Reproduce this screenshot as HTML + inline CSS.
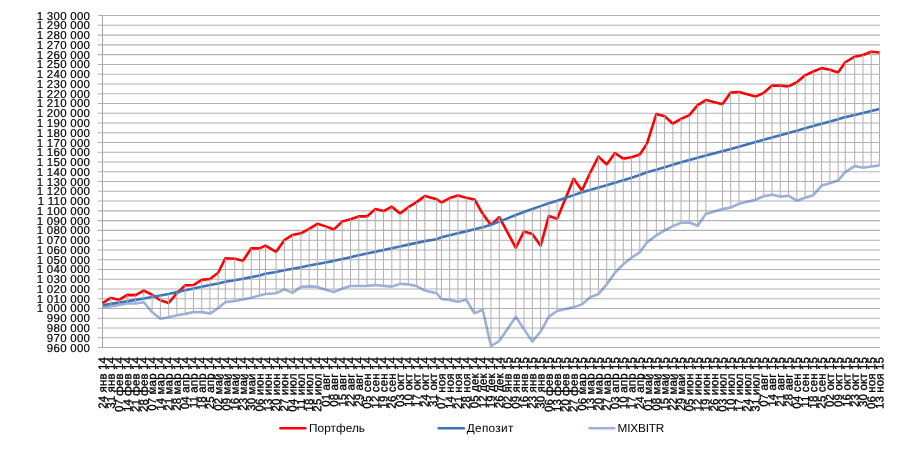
<!DOCTYPE html>
<html><head><meta charset="utf-8"><title>chart</title>
<style>
html,body{margin:0;padding:0;background:#fff;}
body{width:904px;height:451px;overflow:hidden;font-family:"Liberation Sans",sans-serif;}
svg{display:block;font-family:"Liberation Sans",sans-serif;}
text{text-rendering:geometricPrecision;}
.t{filter:url(#gs);}
</style></head><body>
<svg width="904" height="451" viewBox="0 0 904 451">
<defs><filter id="gs" x="0" y="0" width="904" height="451" filterUnits="userSpaceOnUse" color-interpolation-filters="sRGB"><feOffset dx="0" dy="0"/></filter></defs>
<rect width="904" height="451" fill="#fff"/>
<path d="M98.00,15.58H880.00M98.00,25.34H880.00M98.00,35.11H880.00M98.00,44.87H880.00M98.00,54.64H880.00M98.00,64.40H880.00M98.00,74.16H880.00M98.00,83.93H880.00M98.00,93.69H880.00M98.00,103.45H880.00M98.00,113.22H880.00M98.00,122.98H880.00M98.00,132.75H880.00M98.00,142.51H880.00M98.00,152.27H880.00M98.00,162.04H880.00M98.00,171.80H880.00M98.00,181.57H880.00M98.00,191.33H880.00M98.00,201.09H880.00M98.00,210.86H880.00M98.00,220.62H880.00M98.00,230.38H880.00M98.00,240.15H880.00M98.00,249.91H880.00M98.00,259.68H880.00M98.00,269.44H880.00M98.00,279.20H880.00M98.00,288.97H880.00M98.00,298.73H880.00M98.00,308.49H880.00M98.00,318.26H880.00M98.00,328.02H880.00M98.00,337.79H880.00M98.00,347.55H880.00" stroke="#B2B2B2" stroke-width="1.05" fill="none"/>
<path d="M102.5,15.08V348.05" stroke="#A6A6A6" stroke-width="1" fill="none"/>
<path d="M102.50,303.03 L110.77,297.95 L119.03,299.80 L127.30,294.92 L135.56,295.12 L143.83,290.63 L152.10,294.73 L160.36,300.29 L168.63,302.93 L176.89,293.26 L185.16,285.35 L193.43,285.06 L201.69,279.89 L209.96,279.01 L218.22,272.76 L225.31,258.21 L234.76,258.80 L243.02,260.65 L251.29,248.35 L259.55,248.35 L265.46,245.62 L276.09,251.86 L284.35,240.15 L292.62,234.97 L300.88,233.31 L309.15,228.82 L317.41,223.84 L325.68,226.38 L333.95,229.41 L342.21,221.60 L350.48,219.16 L358.74,216.42 L367.01,216.42 L375.28,209.10 L383.54,211.05 L391.81,206.66 L400.07,213.59 L408.34,207.20 L416.61,202.17 L424.87,196.11 L436.68,199.24 L441.40,202.56 L449.67,198.07 L457.94,195.53 L466.20,197.68 L474.47,199.43 L482.73,213.88 L491.00,224.92 L499.27,217.20 L515.80,247.76 L524.06,231.46 L532.33,234.09 L540.60,245.81 L548.86,215.93 L557.13,218.77 L573.66,178.83 L581.93,190.45 L590.19,172.78 L598.46,156.67 L606.72,164.48 L614.99,153.05 L623.26,158.62 L631.52,157.16 L639.79,154.42 L646.87,143.88 L656.32,114.10 L664.59,116.15 L672.85,123.67 L681.12,118.88 L689.38,115.17 L697.65,105.02 L705.91,100.04 L722.45,104.24 L730.71,92.62 L738.98,92.03 L755.51,96.62 L763.78,92.81 L772.04,85.59 L780.31,85.59 L788.57,86.37 L796.84,82.27 L805.11,75.33 L813.37,71.53 L821.64,68.11 L829.90,69.67 L838.17,72.50 L845.26,62.25 L854.70,56.69 L862.97,55.03 L871.23,51.71 L879.50,52.58" stroke="#FF0000" stroke-width="2.6" fill="none" stroke-linejoin="round" stroke-linecap="butt"/>
<path d="M102.50,305.18 L110.77,303.85 L119.03,302.52 L127.30,301.19 L135.56,299.86 L143.83,298.54 L152.10,297.01 L160.36,295.48 L168.63,293.95 L176.89,292.12 L185.16,290.30 L193.43,288.48 L201.69,286.79 L209.96,285.09 L218.22,283.40 L225.31,281.84 L234.76,280.28 L243.02,278.72 L251.29,277.15 L259.55,275.59 L265.46,273.83 L276.09,272.08 L284.35,270.32 L292.62,268.74 L300.88,267.16 L309.15,265.58 L317.41,264.00 L325.68,262.43 L333.95,260.85 L342.21,259.01 L350.48,257.18 L358.74,255.34 L367.01,253.50 L375.28,251.67 L383.54,249.91 L391.81,248.15 L400.07,246.40 L408.34,244.64 L416.61,242.88 L424.87,241.12 L436.68,239.17 L441.40,237.22 L449.67,235.27 L457.94,233.31 L466.20,231.36 L474.47,229.26 L482.73,227.16 L491.00,224.72 L499.27,221.60 L515.80,214.96 L524.06,211.93 L532.33,208.90 L540.60,206.12 L548.86,203.34 L557.13,200.80 L573.66,195.14 L581.93,192.31 L590.19,189.91 L598.46,187.52 L606.72,185.13 L614.99,182.74 L623.26,180.20 L631.52,177.66 L639.79,174.93 L646.87,172.19 L656.32,169.70 L664.59,167.21 L672.85,164.72 L681.12,162.23 L689.38,160.03 L697.65,157.82 L705.91,155.61 L722.45,151.20 L730.71,148.91 L738.98,146.63 L755.51,142.06 L763.78,139.78 L772.04,137.49 L780.31,135.21 L788.57,132.92 L796.84,130.64 L805.11,128.35 L813.37,126.06 L821.64,123.76 L829.90,121.47 L838.17,119.17 L845.26,117.12 L854.70,115.07 L862.97,113.02 L871.23,110.97 L879.50,108.92" stroke="#3E73B7" stroke-width="2.6" fill="none" stroke-linejoin="round" stroke-linecap="butt"/>
<path d="M102.50,307.23 L110.77,306.35 L119.03,305.08 L127.30,303.52 L135.56,303.52 L143.83,302.25 L152.10,312.11 L160.36,318.84 L168.63,317.18 L176.89,315.23 L185.16,313.86 L193.43,312.11 L201.69,312.11 L209.96,313.57 L218.22,308.10 L225.31,302.15 L234.76,301.07 L243.02,299.41 L251.29,297.75 L259.55,295.51 L265.46,294.04 L276.09,293.26 L284.35,289.36 L292.62,292.68 L300.88,286.92 L309.15,286.33 L317.41,286.92 L325.68,289.65 L333.95,292.09 L342.21,288.58 L350.48,286.04 L358.74,286.04 L367.01,285.84 L375.28,285.06 L383.54,285.84 L391.81,286.62 L400.07,283.89 L408.34,284.38 L416.61,286.04 L424.87,290.53 L436.68,293.26 L441.40,299.02 L449.67,299.95 L457.94,301.66 L466.20,299.71 L474.47,313.28 L482.73,309.76 L491.00,345.99 L499.27,341.01 L515.80,316.79 L524.06,329.39 L532.33,341.59 L540.60,331.54 L548.86,316.60 L557.13,311.03 L573.66,307.13 L581.93,304.39 L590.19,297.17 L598.46,294.04 L606.72,284.38 L614.99,272.76 L623.26,264.36 L631.52,257.72 L639.79,252.35 L646.87,242.49 L656.32,235.36 L664.59,230.48 L672.85,226.09 L681.12,222.77 L689.38,222.57 L697.65,225.70 L705.91,213.88 L722.45,209.10 L730.71,207.54 L738.98,203.83 L755.51,199.73 L763.78,196.11 L772.04,194.84 L780.31,196.60 L788.57,195.82 L796.84,200.70 L805.11,197.68 L813.37,195.14 L821.64,185.57 L829.90,183.32 L838.17,180.30 L845.26,172.09 L854.70,166.04 L862.97,167.80 L871.23,166.43 L879.50,165.36" stroke="#476FB5" stroke-opacity="0.54" stroke-width="2.6" fill="none" stroke-linejoin="round" stroke-linecap="butt"/>
<path d="M102.50,303.03V307.23M110.77,297.95V306.35M119.03,299.80V305.08M127.30,294.92V303.52M135.56,295.12V303.52M143.83,290.63V302.25M152.10,294.73V312.11M160.36,295.48V318.84M168.63,293.95V317.18M176.89,292.12V315.23M185.16,285.35V313.86M193.43,285.06V312.11M201.69,279.89V312.11M209.96,279.01V313.57M218.22,272.76V308.10M225.31,258.21V302.15M234.76,258.80V301.07M243.02,260.65V299.41M251.29,248.35V297.75M259.55,248.35V295.51M265.46,245.62V294.04M276.09,251.86V293.26M284.35,240.15V289.36M292.62,234.97V292.68M300.88,233.31V286.92M309.15,228.82V286.33M317.41,223.84V286.92M325.68,226.38V289.65M333.95,229.41V292.09M342.21,221.60V288.58M350.48,219.16V286.04M358.74,216.42V286.04M367.01,216.42V285.84M375.28,209.10V285.06M383.54,211.05V285.84M391.81,206.66V286.62M400.07,213.59V283.89M408.34,207.20V284.38M416.61,202.17V286.04M424.87,196.11V290.53M436.68,199.24V293.26M441.40,202.56V299.02M449.67,198.07V299.95M457.94,195.53V301.66M466.20,197.68V299.71M474.47,199.43V313.28M482.73,213.88V309.76M491.00,224.72V345.99M499.27,217.20V341.01M515.80,214.96V316.79M524.06,211.93V329.39M532.33,208.90V341.59M540.60,206.12V331.54M548.86,203.34V316.60M557.13,200.80V311.03M573.66,178.83V307.13M581.93,190.45V304.39M590.19,172.78V297.17M598.46,156.67V294.04M606.72,164.48V284.38M614.99,153.05V272.76M623.26,158.62V264.36M631.52,157.16V257.72M639.79,154.42V252.35M646.87,143.88V242.49M656.32,114.10V235.36M664.59,116.15V230.48M672.85,123.67V226.09M681.12,118.88V222.77M689.38,115.17V222.57M697.65,105.02V225.70M705.91,100.04V213.88M722.45,104.24V209.10M730.71,92.62V207.54M738.98,92.03V203.83M755.51,96.62V199.73M763.78,92.81V196.11M772.04,85.59V194.84M780.31,85.59V196.60M788.57,86.37V195.82M796.84,82.27V200.70M805.11,75.33V197.68M813.37,71.53V195.14M821.64,68.11V185.57M829.90,69.67V183.32M838.17,72.50V180.30M845.26,62.25V172.09M854.70,56.69V166.04M862.97,55.03V167.80M871.23,51.71V166.43M879.50,52.58V165.36" stroke="#B0B0B0" stroke-width="1.0" fill="none"/>
<g class="t" font-size="11.5" letter-spacing="0.25" fill="#000" stroke="#000" stroke-width="0.18"><text x="90.2" y="19.58" text-anchor="end">1 300 000</text><text x="90.2" y="29.34" text-anchor="end">1 290 000</text><text x="90.2" y="39.11" text-anchor="end">1 280 000</text><text x="90.2" y="48.87" text-anchor="end">1 270 000</text><text x="90.2" y="58.64" text-anchor="end">1 260 000</text><text x="90.2" y="68.40" text-anchor="end">1 250 000</text><text x="90.2" y="78.16" text-anchor="end">1 240 000</text><text x="90.2" y="87.93" text-anchor="end">1 230 000</text><text x="90.2" y="97.69" text-anchor="end">1 220 000</text><text x="90.2" y="107.45" text-anchor="end">1 210 000</text><text x="90.2" y="117.22" text-anchor="end">1 200 000</text><text x="90.2" y="126.98" text-anchor="end">1 190 000</text><text x="90.2" y="136.75" text-anchor="end">1 180 000</text><text x="90.2" y="146.51" text-anchor="end">1 170 000</text><text x="90.2" y="156.27" text-anchor="end">1 160 000</text><text x="90.2" y="166.04" text-anchor="end">1 150 000</text><text x="90.2" y="175.80" text-anchor="end">1 140 000</text><text x="90.2" y="185.57" text-anchor="end">1 130 000</text><text x="90.2" y="195.33" text-anchor="end">1 120 000</text><text x="90.2" y="205.09" text-anchor="end">1 110 000</text><text x="90.2" y="214.86" text-anchor="end">1 100 000</text><text x="90.2" y="224.62" text-anchor="end">1 090 000</text><text x="90.2" y="234.38" text-anchor="end">1 080 000</text><text x="90.2" y="244.15" text-anchor="end">1 070 000</text><text x="90.2" y="253.91" text-anchor="end">1 060 000</text><text x="90.2" y="263.68" text-anchor="end">1 050 000</text><text x="90.2" y="273.44" text-anchor="end">1 040 000</text><text x="90.2" y="283.20" text-anchor="end">1 030 000</text><text x="90.2" y="292.97" text-anchor="end">1 020 000</text><text x="90.2" y="302.73" text-anchor="end">1 010 000</text><text x="90.2" y="312.49" text-anchor="end">1 000 000</text><text x="90.2" y="322.26" text-anchor="end">990 000</text><text x="90.2" y="332.02" text-anchor="end">980 000</text><text x="90.2" y="341.79" text-anchor="end">970 000</text><text x="90.2" y="351.55" text-anchor="end">960 000</text></g>
<g class="t" font-size="11.5" letter-spacing="0.14" fill="#000" stroke="#000" stroke-width="0.32"><text transform="translate(106.50,356.9) rotate(-89.95)" text-anchor="end">24 янв 14</text><text transform="translate(114.77,356.9) rotate(-89.95)" text-anchor="end">31 янв 14</text><text transform="translate(123.03,356.9) rotate(-89.95)" text-anchor="end">07 фев 14</text><text transform="translate(131.30,356.9) rotate(-89.95)" text-anchor="end">14 фев 14</text><text transform="translate(139.56,356.9) rotate(-89.95)" text-anchor="end">21 фев 14</text><text transform="translate(147.83,356.9) rotate(-89.95)" text-anchor="end">28 фев 14</text><text transform="translate(156.10,356.9) rotate(-89.95)" text-anchor="end">07 мар 14</text><text transform="translate(164.36,356.9) rotate(-89.95)" text-anchor="end">14 мар 14</text><text transform="translate(172.63,356.9) rotate(-89.95)" text-anchor="end">21 мар 14</text><text transform="translate(180.89,356.9) rotate(-89.95)" text-anchor="end">28 мар 14</text><text transform="translate(189.16,356.9) rotate(-89.95)" text-anchor="end">04 апр 14</text><text transform="translate(197.43,356.9) rotate(-89.95)" text-anchor="end">11 апр 14</text><text transform="translate(205.69,356.9) rotate(-89.95)" text-anchor="end">18 апр 14</text><text transform="translate(213.96,356.9) rotate(-89.95)" text-anchor="end">25 апр 14</text><text transform="translate(222.22,356.9) rotate(-89.95)" text-anchor="end">02 май 14</text><text transform="translate(230.49,356.9) rotate(-89.95)" text-anchor="end">09 май 14</text><text transform="translate(238.76,356.9) rotate(-89.95)" text-anchor="end">16 май 14</text><text transform="translate(247.02,356.9) rotate(-89.95)" text-anchor="end">23 май 14</text><text transform="translate(255.29,356.9) rotate(-89.95)" text-anchor="end">30 май 14</text><text transform="translate(263.55,356.9) rotate(-89.95)" text-anchor="end">06 июн 14</text><text transform="translate(271.82,356.9) rotate(-89.95)" text-anchor="end">13 июн 14</text><text transform="translate(280.09,356.9) rotate(-89.95)" text-anchor="end">20 июн 14</text><text transform="translate(288.35,356.9) rotate(-89.95)" text-anchor="end">27 июн 14</text><text transform="translate(296.62,356.9) rotate(-89.95)" text-anchor="end">04 июл 14</text><text transform="translate(304.88,356.9) rotate(-89.95)" text-anchor="end">11 июл 14</text><text transform="translate(313.15,356.9) rotate(-89.95)" text-anchor="end">18 июл 14</text><text transform="translate(321.41,356.9) rotate(-89.95)" text-anchor="end">25 июл 14</text><text transform="translate(329.68,356.9) rotate(-89.95)" text-anchor="end">01 авг 14</text><text transform="translate(337.95,356.9) rotate(-89.95)" text-anchor="end">08 авг 14</text><text transform="translate(346.21,356.9) rotate(-89.95)" text-anchor="end">15 авг 14</text><text transform="translate(354.48,356.9) rotate(-89.95)" text-anchor="end">22 авг 14</text><text transform="translate(362.74,356.9) rotate(-89.95)" text-anchor="end">29 авг 14</text><text transform="translate(371.01,356.9) rotate(-89.95)" text-anchor="end">05 сен 14</text><text transform="translate(379.28,356.9) rotate(-89.95)" text-anchor="end">12 сен 14</text><text transform="translate(387.54,356.9) rotate(-89.95)" text-anchor="end">19 сен 14</text><text transform="translate(395.81,356.9) rotate(-89.95)" text-anchor="end">26 сен 14</text><text transform="translate(404.07,356.9) rotate(-89.95)" text-anchor="end">03 окт 14</text><text transform="translate(412.34,356.9) rotate(-89.95)" text-anchor="end">10 окт 14</text><text transform="translate(420.61,356.9) rotate(-89.95)" text-anchor="end">17 окт 14</text><text transform="translate(428.87,356.9) rotate(-89.95)" text-anchor="end">24 окт 14</text><text transform="translate(437.14,356.9) rotate(-89.95)" text-anchor="end">31 окт 14</text><text transform="translate(445.40,356.9) rotate(-89.95)" text-anchor="end">07 ноя 14</text><text transform="translate(453.67,356.9) rotate(-89.95)" text-anchor="end">14 ноя 14</text><text transform="translate(461.94,356.9) rotate(-89.95)" text-anchor="end">21 ноя 14</text><text transform="translate(470.20,356.9) rotate(-89.95)" text-anchor="end">28 ноя 14</text><text transform="translate(478.47,356.9) rotate(-89.95)" text-anchor="end">05 дек 14</text><text transform="translate(486.73,356.9) rotate(-89.95)" text-anchor="end">12 дек 14</text><text transform="translate(495.00,356.9) rotate(-89.95)" text-anchor="end">19 дек 14</text><text transform="translate(503.27,356.9) rotate(-89.95)" text-anchor="end">26 дек 14</text><text transform="translate(511.53,356.9) rotate(-89.95)" text-anchor="end">02 янв 15</text><text transform="translate(519.80,356.9) rotate(-89.95)" text-anchor="end">09 янв 15</text><text transform="translate(528.06,356.9) rotate(-89.95)" text-anchor="end">16 янв 15</text><text transform="translate(536.33,356.9) rotate(-89.95)" text-anchor="end">23 янв 15</text><text transform="translate(544.60,356.9) rotate(-89.95)" text-anchor="end">30 янв 15</text><text transform="translate(552.86,356.9) rotate(-89.95)" text-anchor="end">06 фев 15</text><text transform="translate(561.13,356.9) rotate(-89.95)" text-anchor="end">13 фев 15</text><text transform="translate(569.39,356.9) rotate(-89.95)" text-anchor="end">20 фев 15</text><text transform="translate(577.66,356.9) rotate(-89.95)" text-anchor="end">27 фев 15</text><text transform="translate(585.93,356.9) rotate(-89.95)" text-anchor="end">06 мар 15</text><text transform="translate(594.19,356.9) rotate(-89.95)" text-anchor="end">13 мар 15</text><text transform="translate(602.46,356.9) rotate(-89.95)" text-anchor="end">20 мар 15</text><text transform="translate(610.72,356.9) rotate(-89.95)" text-anchor="end">27 мар 15</text><text transform="translate(618.99,356.9) rotate(-89.95)" text-anchor="end">03 апр 15</text><text transform="translate(627.26,356.9) rotate(-89.95)" text-anchor="end">10 апр 15</text><text transform="translate(635.52,356.9) rotate(-89.95)" text-anchor="end">17 апр 15</text><text transform="translate(643.79,356.9) rotate(-89.95)" text-anchor="end">24 апр 15</text><text transform="translate(652.05,356.9) rotate(-89.95)" text-anchor="end">01 май 15</text><text transform="translate(660.32,356.9) rotate(-89.95)" text-anchor="end">08 май 15</text><text transform="translate(668.59,356.9) rotate(-89.95)" text-anchor="end">15 май 15</text><text transform="translate(676.85,356.9) rotate(-89.95)" text-anchor="end">22 май 15</text><text transform="translate(685.12,356.9) rotate(-89.95)" text-anchor="end">29 май 15</text><text transform="translate(693.38,356.9) rotate(-89.95)" text-anchor="end">05 июн 15</text><text transform="translate(701.65,356.9) rotate(-89.95)" text-anchor="end">12 июн 15</text><text transform="translate(709.91,356.9) rotate(-89.95)" text-anchor="end">19 июн 15</text><text transform="translate(718.18,356.9) rotate(-89.95)" text-anchor="end">26 июн 15</text><text transform="translate(726.45,356.9) rotate(-89.95)" text-anchor="end">03 июл 15</text><text transform="translate(734.71,356.9) rotate(-89.95)" text-anchor="end">10 июл 15</text><text transform="translate(742.98,356.9) rotate(-89.95)" text-anchor="end">17 июл 15</text><text transform="translate(751.24,356.9) rotate(-89.95)" text-anchor="end">24 июл 15</text><text transform="translate(759.51,356.9) rotate(-89.95)" text-anchor="end">31 июл 15</text><text transform="translate(767.78,356.9) rotate(-89.95)" text-anchor="end">07 авг 15</text><text transform="translate(776.04,356.9) rotate(-89.95)" text-anchor="end">14 авг 15</text><text transform="translate(784.31,356.9) rotate(-89.95)" text-anchor="end">21 авг 15</text><text transform="translate(792.57,356.9) rotate(-89.95)" text-anchor="end">28 авг 15</text><text transform="translate(800.84,356.9) rotate(-89.95)" text-anchor="end">04 сен 15</text><text transform="translate(809.11,356.9) rotate(-89.95)" text-anchor="end">11 сен 15</text><text transform="translate(817.37,356.9) rotate(-89.95)" text-anchor="end">18 сен 15</text><text transform="translate(825.64,356.9) rotate(-89.95)" text-anchor="end">25 сен 15</text><text transform="translate(833.90,356.9) rotate(-89.95)" text-anchor="end">02 окт 15</text><text transform="translate(842.17,356.9) rotate(-89.95)" text-anchor="end">09 окт 15</text><text transform="translate(850.44,356.9) rotate(-89.95)" text-anchor="end">16 окт 15</text><text transform="translate(858.70,356.9) rotate(-89.95)" text-anchor="end">23 окт 15</text><text transform="translate(866.97,356.9) rotate(-89.95)" text-anchor="end">30 окт 15</text><text transform="translate(875.23,356.9) rotate(-89.95)" text-anchor="end">06 ноя 15</text><text transform="translate(883.50,356.9) rotate(-89.95)" text-anchor="end">13 ноя 15</text></g>
<path d="M280.5,428.2H305.2" stroke="#FF0000" stroke-width="2.6" stroke-linecap="round"/>
<text class="t" x="309.0" y="432.4" font-size="11.8" letter-spacing="0.05" fill="#000">Портфель</text>
<path d="M438.7,428.2H463.9" stroke="#3E73B7" stroke-width="2.6" stroke-linecap="round"/>
<text class="t" x="466.7" y="432.4" font-size="11.8" letter-spacing="0.33" fill="#000">Депозит</text>
<path d="M589.6,428.2H614.2" stroke="#9CB1D8" stroke-width="2.6" stroke-linecap="round"/>
<text class="t" x="617.6" y="432.4" font-size="11.8" letter-spacing="-0.2" fill="#000">MIXBITR</text>
</svg>
</body></html>
